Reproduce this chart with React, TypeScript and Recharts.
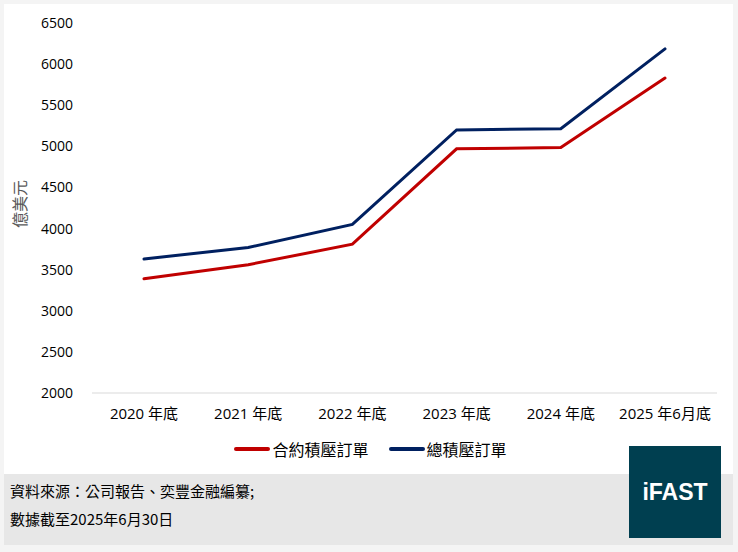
import React from 'react';
import { LineChart, Line, XAxis, YAxis, Legend } from 'recharts';

const categories = ['2020 年底', '2021 年底', '2022 年底', '2023 年底', '2024 年底', '2025 年6月底'];
const contractBacklog = [3390, 3560, 3810, 4970, 4985, 5830];
const totalBacklog = [3630, 3770, 4050, 5200, 5215, 6185];
const yTicks = [2000, 2500, 3000, 3500, 4000, 4500, 5000, 5500, 6000, 6500];

const seriesNames = { contract: '合約積壓訂單', total: '總積壓訂單' };
const RED = '#c00000';
const NAVY = '#002060';

const data = categories.map((c, i) => ({
  name: c,
  contract: contractBacklog[i],
  total: totalBacklog[i],
}));

const FONT = "'Open Sans', 'Noto Sans CJK TC', sans-serif";

const LegendContent = () => (
  <div style={{ display: 'flex', justifyContent: 'center', alignItems: 'center', marginTop: 16, paddingLeft: 24, fontFamily: "'Noto Sans CJK TC', sans-serif", fontSize: 16, color: '#000' }}>
    {[{ n: seriesNames.contract, c: RED }, { n: seriesNames.total, c: NAVY }].map((it, i) => (
      <div key={i} style={{ display: 'flex', alignItems: 'center', marginRight: i === 0 ? 20 : 0 }}>
        <div style={{ width: 36, height: 4, borderRadius: 2, background: it.c, marginRight: 2 }} />
        <span>{it.n}</span>
      </div>
    ))}
  </div>
);

export default function App() {
  return (
    <div style={{ position: 'absolute', left: 0, top: 0, width: 738, height: 552, background: '#f4f4f4', overflow: 'hidden' }}>
      <div style={{ position: 'absolute', left: 4, top: 4, width: 729, height: 470, background: '#fff' }} />
      <div style={{ position: 'absolute', left: 4, top: 474, width: 729, height: 71, background: '#e7e7e7' }} />
      <div style={{ position: 'absolute', left: 0, top: 0 }}>
        <LineChart width={738} height={474} data={data} margin={{ top: 23, right: 21, bottom: 10, left: 0 }}>
          <XAxis
            dataKey="name"
            axisLine={{ stroke: '#d9d9d9' }}
            tickLine={false}
            tick={{ fill: '#000', fontSize: 15, fontFamily: FONT }}
            tickMargin={9}
            height={28}
            interval={0}
            padding={{ left: 52, right: 52 }}
          />
          <YAxis
            domain={[2000, 6500]}
            ticks={yTicks}
            axisLine={false}
            tickLine={false}
            width={92}
            tickMargin={13}
            tick={{ fill: '#000', fontSize: 14, fontFamily: FONT }}
            label={{ value: '億美元', angle: -90, position: 'insideLeft', offset: 20, dy: -4, style: { fill: '#595959', fontSize: 16, fontFamily: "'Noto Sans CJK TC', sans-serif", textAnchor: 'middle' } }}
          />
          <Legend verticalAlign="bottom" height={43} content={<LegendContent />} />
          <Line type="linear" dataKey="contract" name={seriesNames.contract} stroke={RED} strokeWidth={3} dot={false} strokeLinecap="round" isAnimationActive={false} />
          <Line type="linear" dataKey="total" name={seriesNames.total} stroke={NAVY} strokeWidth={3} dot={false} strokeLinecap="round" isAnimationActive={false} />
        </LineChart>
      </div>
      <div style={{ position: 'absolute', left: 10, top: 477, fontFamily: "'Noto Sans CJK TC', sans-serif", fontSize: 15, lineHeight: '28px', color: '#000' }}>
        <div>資料來源：公司報告、奕豐金融編纂;</div>
        <div>數據截至2025年6月30日</div>
      </div>
      <div style={{ position: 'absolute', left: 629, top: 446, width: 92, height: 92, background: '#003f50', display: 'flex', alignItems: 'center', justifyContent: 'center', color: '#fff', fontFamily: "'Liberation Sans', Arial, sans-serif", fontWeight: 'bold', fontSize: 23 }}>
        iFAST
      </div>
    </div>
  );
}
